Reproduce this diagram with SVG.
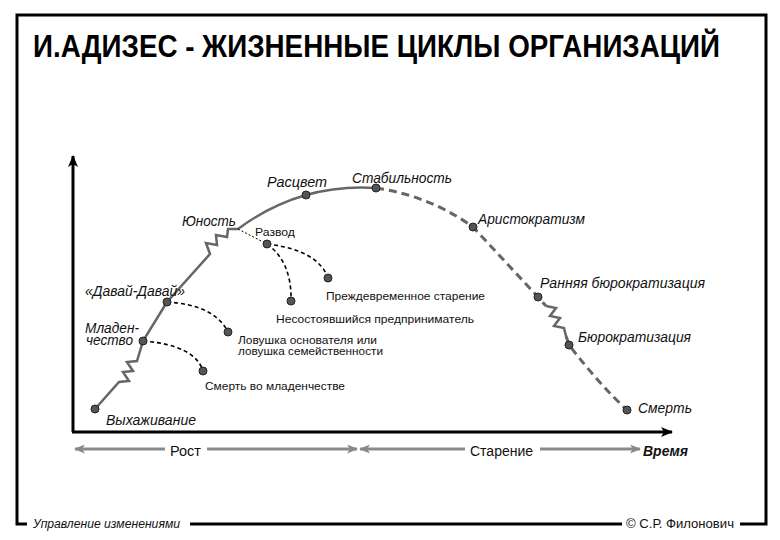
<svg xmlns="http://www.w3.org/2000/svg" width="780" height="540" viewBox="0 0 780 540">
<defs>
<marker id="ah" viewBox="0 0 12 10" refX="11" refY="5" markerWidth="12" markerHeight="10" markerUnits="userSpaceOnUse" orient="auto"><path d="M0,0 L12,5 L0,10 L3,5 Z" fill="#000"/></marker>
<marker id="ag" viewBox="0 0 12 10" refX="11" refY="5" markerWidth="12" markerHeight="9" markerUnits="userSpaceOnUse" orient="auto"><path d="M0,0 L12,5 L0,10 L3,5 Z" fill="#888"/></marker>
<style>
.frame{fill:none;stroke:#000;stroke-width:3}
.axis{fill:none;stroke:#000;stroke-width:3}
.time{fill:none;stroke:#8a8a8a;stroke-width:3}
.grow{fill:none;stroke:#666;stroke-width:2.5;stroke-linejoin:miter}
.decl{fill:none;stroke:#666;stroke-width:3;stroke-dasharray:8 5}
.br{fill:none;stroke:#000;stroke-width:1.6;stroke-dasharray:4 3}
.brt{fill:none;stroke:#000;stroke-width:1;stroke-dasharray:2 2}
.dot{fill:#555;stroke:#222;stroke-width:1}
.it{font-family:"Liberation Sans",Arial,sans-serif;font-style:italic;font-size:14px;fill:#111}
.rg{font-family:"Liberation Sans",Arial,sans-serif;font-size:11.5px;fill:#111}
.ax{font-family:"Liberation Sans",Arial,sans-serif;font-size:14px;fill:#111}
.title{font-family:"Liberation Sans",Arial,sans-serif;font-weight:bold;font-size:31px;fill:#000}
.foot{font-family:"Liberation Sans",Arial,sans-serif;font-size:12px;fill:#111}
</style>
</defs>
<rect width="780" height="540" fill="#fff"/>
<g id="frame">
<path class="frame" d="M27,524 L17,524 L17,15 L766,15 L766,524 L740,524 M190,524 L622,524"/>
<text class="title" x="33" y="57" textLength="687" lengthAdjust="spacingAndGlyphs">И.АДИЗЕС - ЖИЗНЕННЫЕ ЦИКЛЫ ОРГАНИЗАЦИЙ</text>
<text class="foot" font-style="italic" x="33" y="528" textLength="147" lengthAdjust="spacingAndGlyphs">Управление изменениями</text>
<text class="foot" x="626" y="528" textLength="108" lengthAdjust="spacingAndGlyphs">© С.Р. Филонович</text>
</g>
<g id="axes">
<path class="axis" d="M73,432 L73,156" marker-end="url(#ah)"/>
<path class="axis" d="M72,432 L672,432" marker-end="url(#ah)"/>
<path class="time" d="M165,449 L75,449" marker-end="url(#ag)"/>
<path class="time" d="M207,449 L357,449" marker-end="url(#ag)"/>
<path class="time" d="M465,449 L360,449" marker-end="url(#ag)"/>
<path class="time" d="M540,449 L640,449" marker-end="url(#ag)"/>
<text class="ax" x="170" y="456" textLength="31" lengthAdjust="spacingAndGlyphs">Рост</text>
<text class="ax" x="470" y="456" textLength="63" lengthAdjust="spacingAndGlyphs">Старение</text>
<text class="ax" font-weight="bold" font-style="italic" x="643" y="456" textLength="45" lengthAdjust="spacingAndGlyphs">Время</text>
</g>
<g id="connectors">
<path class="grow" d="M95,409 L119,382 L129,381 L123,372 L133,371 L127,362 L137,361 L143,341 L167,302 L210,254 L206,243 L217,245 L216,235 L227,237 L228,229 L238,229 Q300,183 376,188"/>
<path class="decl" d="M376,188 Q430,196 473,227 L538,297 L546,306"/>
<path class="grow" stroke-width="3" d="M546,306 L556,308 L550,316 L560,318 L554,326 L564,328 L566,336"/>
<path class="decl" d="M566,336 L569,345 Q600,385 627,410"/>
<path class="brt" d="M238,229 L267,244"/>
<path class="br" d="M267,244 Q318,250 328,278"/>
<path class="br" d="M267,244 Q292,262 291,301"/>
<path class="br" d="M167,302 Q215,305 228,332"/>
<path class="br" d="M143,341 Q195,345 203,371"/>
</g>
<g id="n-vyhazhivanie"><circle class="dot" cx="95" cy="409" r="4"/><text class="it" x="106" y="425" textLength="90" lengthAdjust="spacingAndGlyphs">Выхаживание</text></g>
<g id="n-mladenchestvo"><circle class="dot" cx="143" cy="341" r="4"/><text class="it" font-size="12"><tspan x="85" y="333" textLength="54" lengthAdjust="spacingAndGlyphs">Младен-</tspan><tspan x="86" y="345" textLength="47" lengthAdjust="spacingAndGlyphs">чество</tspan></text></g>
<g id="n-davai"><circle class="dot" cx="167" cy="302" r="4"/><text class="it" x="85" y="296" textLength="100" lengthAdjust="spacingAndGlyphs">«Давай-Давай»</text></g>
<g id="n-yunost"><text class="it" x="182" y="226" textLength="54" lengthAdjust="spacingAndGlyphs">Юность</text></g>
<g id="n-razvod"><circle class="dot" cx="267" cy="244" r="4"/><text class="rg" x="255" y="236" textLength="40" lengthAdjust="spacingAndGlyphs">Развод</text></g>
<g id="n-rascvet"><circle class="dot" cx="306" cy="195" r="4"/><text class="it" x="267" y="187" textLength="60" lengthAdjust="spacingAndGlyphs">Расцвет</text></g>
<g id="n-stabilnost"><circle class="dot" cx="376" cy="188" r="4"/><text class="it" x="352" y="183" textLength="100" lengthAdjust="spacingAndGlyphs">Стабильность</text></g>
<g id="n-aristokratizm"><circle class="dot" cx="473" cy="227" r="4"/><text class="it" x="478" y="224" textLength="107" lengthAdjust="spacingAndGlyphs">Аристократизм</text></g>
<g id="n-rannyaya"><circle class="dot" cx="538" cy="297" r="4"/><text class="it" x="540" y="288" textLength="165" lengthAdjust="spacingAndGlyphs">Ранняя бюрократизация</text></g>
<g id="n-byurokratizaciya"><circle class="dot" cx="569" cy="345" r="4"/><text class="it" x="578" y="342" textLength="113" lengthAdjust="spacingAndGlyphs">Бюрократизация</text></g>
<g id="n-smert"><circle class="dot" cx="627" cy="410" r="4"/><text class="it" x="638" y="413" textLength="54" lengthAdjust="spacingAndGlyphs">Смерть</text></g>
<g id="n-prezhdevremennoe"><circle class="dot" cx="328" cy="278" r="4"/><text class="rg" x="326" y="300" textLength="159" lengthAdjust="spacingAndGlyphs">Преждевременное старение</text></g>
<g id="n-nesostoyavshiysya"><circle class="dot" cx="291" cy="301" r="4"/><text class="rg" x="276" y="323" textLength="198" lengthAdjust="spacingAndGlyphs">Несостоявшийся предприниматель</text></g>
<g id="n-lovushka"><circle class="dot" cx="228" cy="332" r="4"/><text class="rg" font-size="10.5"><tspan x="238" y="344" textLength="139" lengthAdjust="spacingAndGlyphs">Ловушка основателя или</tspan><tspan x="238" y="355" textLength="145" lengthAdjust="spacingAndGlyphs">ловушка семейственности</tspan></text></g>
<g id="n-smert-mlad"><circle class="dot" cx="203" cy="371" r="4"/><text class="rg" x="205" y="390" textLength="140" lengthAdjust="spacingAndGlyphs">Смерть во младенчестве</text></g>
</svg>
